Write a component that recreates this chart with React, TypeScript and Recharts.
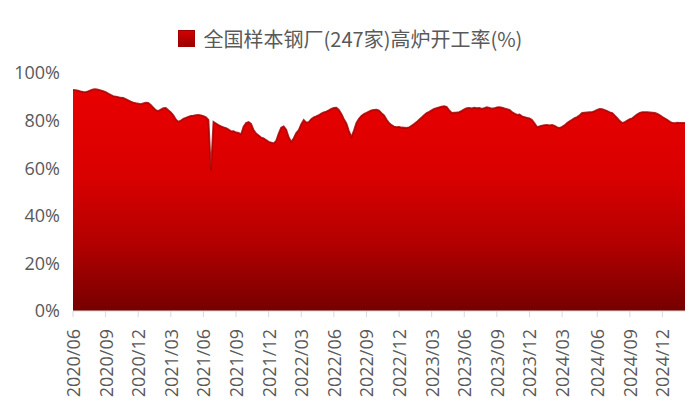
import { Area, AreaChart, XAxis, YAxis } from "recharts";

// 全国样本钢厂(247家)高炉开工率, weekly, starting first Friday of 2020/06
const startDate = "2020-06-05";

const rate2020 = [
  92.9, 92.8, 92.6, 92.3, 92.1, 92.0, 92.3, 92.7, 93.1, 93.2, 93.0, 92.7, 92.4, 92.0,
  91.4, 90.8, 90.3, 90.1, 89.9, 89.6, 89.5, 89.0, 88.5, 88.0, 87.6, 87.3, 87.1, 86.9,
  87.2, 87.5, 87.4,
];
const rate2021 = [
  86.6, 85.5, 84.4, 84.0, 84.6, 85.2, 85.3, 84.4, 83.5, 82.2, 80.5, 79.5, 80.0, 80.8,
  81.2, 81.6, 82.0, 82.1, 82.3, 82.4, 82.2, 81.9, 81.4, 80.3, 59.0, 79.5, 78.8, 78.1,
  77.6, 77.2, 76.9, 76.3, 75.5, 75.6, 75.0, 74.8, 74.2, 77.5, 79.0, 79.4, 78.6, 76.0,
  74.6, 73.8, 72.9, 72.6, 71.8, 71.1, 70.8, 70.4, 71.5, 74.5,
];
const rate2022 = [
  77.0, 77.6, 76.2, 73.0, 71.0, 72.6, 74.8, 76.0, 78.5, 80.3, 79.2, 79.4, 80.6, 81.4,
  81.8, 82.3, 83.0, 83.5, 83.8, 84.3, 84.9, 85.3, 85.4, 84.5, 82.8, 80.6, 78.8, 75.6,
  73.1, 75.8, 79.0, 80.8, 82.0, 82.8, 83.3, 83.8, 84.3, 84.5, 84.6, 84.2, 83.1, 82.2,
  80.5, 79.0, 78.1, 77.5, 77.3, 77.4, 77.1, 77.0, 76.9, 77.2,
];
const rate2023 = [
  77.8, 78.6, 79.4, 80.4, 81.3, 82.3, 83.2, 83.7, 84.3, 84.9, 85.3, 85.6, 85.9, 86.1,
  85.7, 84.3, 83.2, 83.3, 83.4, 83.6, 84.1, 84.7, 85.2, 85.3, 85.1, 85.4, 85.2, 85.3,
  84.9, 85.3, 85.6, 85.3, 85.0, 85.2, 85.6, 85.7, 85.5, 85.1, 84.8, 84.5, 83.6, 83.0,
  82.4, 82.6, 81.8, 81.5, 81.2, 80.9, 80.3, 78.9, 77.3, 77.6,
];
const rate2024 = [
  77.9, 78.1, 78.2, 78.0, 78.2, 77.8, 77.2, 76.9, 77.4, 78.0, 79.0, 79.7, 80.4, 81.1,
  81.5, 82.3, 83.2, 83.3, 83.4, 83.5, 83.6, 84.0, 84.5, 84.9, 84.8, 84.4, 84.0, 83.5,
  83.2, 82.1, 81.0, 79.8, 79.0, 79.4, 80.0, 80.6, 81.0, 81.9, 82.7, 83.3, 83.6, 83.6,
  83.5, 83.4, 83.3, 83.2, 82.8, 82.2, 81.5, 80.9, 80.2, 79.5,
];
const rate2025 = [79.0, 78.9, 79.1, 79.0, 79.0, 79.0];

const tickLabels = [
  "2020/06", "2020/09", "2020/12", "2021/03", "2021/06", "2021/09", "2021/12",
  "2022/03", "2022/06", "2022/09", "2022/12", "2023/03", "2023/06", "2023/09",
  "2023/12", "2024/03", "2024/06", "2024/09", "2024/12",
];

const yTicks = [0, 20, 40, 60, 80, 100];

const seriesName = "全国样本钢厂(247家)高炉开工率(%)";

const rates = [...rate2020, ...rate2021, ...rate2022, ...rate2023, ...rate2024, ...rate2025];

const fmtMonth = (d: Date) =>
  `${d.getUTCFullYear()}/${String(d.getUTCMonth() + 1).padStart(2, "0")}`;

const data = rates.map((v, i) => {
  const d = new Date(startDate + "T00:00:00Z");
  d.setUTCDate(d.getUTCDate() + i * 7);
  return { i, month: fmtMonth(d), v };
});

// tick at first week of each labelled month
const xTicks = tickLabels.map((lab) => data.find((p) => p.month === lab)?.i ?? 0);
const tickText: Record<number, string> = {};
xTicks.forEach((t, k) => (tickText[t] = tickLabels[k]));

const axisFont = "'Open Sans', 'Noto Sans', sans-serif";

function XTick({ x, y, payload }: any) {
  const ty = y + 10;
  return (
    <text
      x={x}
      y={ty}
      transform={`rotate(-90 ${x} ${ty})`}
      textAnchor="end"
      dominantBaseline="central"
      fill="#595959"
      fontSize={18}
      fontFamily={axisFont}
    >
      {tickText[payload.value]}
    </text>
  );
}

export default function App() {
  return (
    <div style={{ position: "absolute", left: 0, top: 0, width: 700, height: 416, background: "#fff" }}>
      <div
        style={{
          position: "absolute",
          left: 0,
          top: 24,
          width: 700,
          display: "flex",
          justifyContent: "center",
          alignItems: "center",
          gap: 9,
          fontFamily: "'Noto Sans CJK SC', sans-serif",
          fontSize: 20,
          color: "#595959",
        }}
      >
        <span
          style={{
            display: "inline-block",
            width: 15,
            height: 15,
            background: "linear-gradient(180deg, #d40000 0%, #9a0000 100%)",
            border: "1px solid #a00000",
          }}
        />
        <span>{seriesName}</span>
      </div>
      <AreaChart width={700} height={416} data={data} margin={{ top: 73, right: 15, bottom: 0, left: 0 }}>
        <defs>
          <linearGradient id="redFill" x1="0" y1="0" x2="0" y2="1">
            <stop offset="0%" stopColor="#e80000" />
            <stop offset="40%" stopColor="#d90000" />
            <stop offset="70%" stopColor="#b20000" />
            <stop offset="100%" stopColor="#760000" />
          </linearGradient>
        </defs>
        <XAxis
          dataKey="i"
          type="number"
          domain={[0, rates.length - 1]}
          ticks={xTicks}
          interval={0}
          height={105}
          axisLine={{ stroke: "#d9d9d9" }}
          tickLine={{ stroke: "#d9d9d9" }}
          tickSize={6}
          tick={<XTick />}
        />
        <YAxis
          domain={[0, 100]}
          ticks={yTicks}
          width={73}
          axisLine={false}
          tickLine={false}
          tickMargin={7}
          tickFormatter={(v) => `${v}%`}
          tick={{ fill: "#595959", fontSize: 18, fontFamily: axisFont }}
        />
        <Area
          type="linear"
          dataKey="v"
          stroke="#a80000"
          strokeWidth={1.8}
          strokeOpacity={0.85}
          fill="url(#redFill)"
          fillOpacity={1}
          isAnimationActive={false}
        />
      </AreaChart>
    </div>
  );
}
